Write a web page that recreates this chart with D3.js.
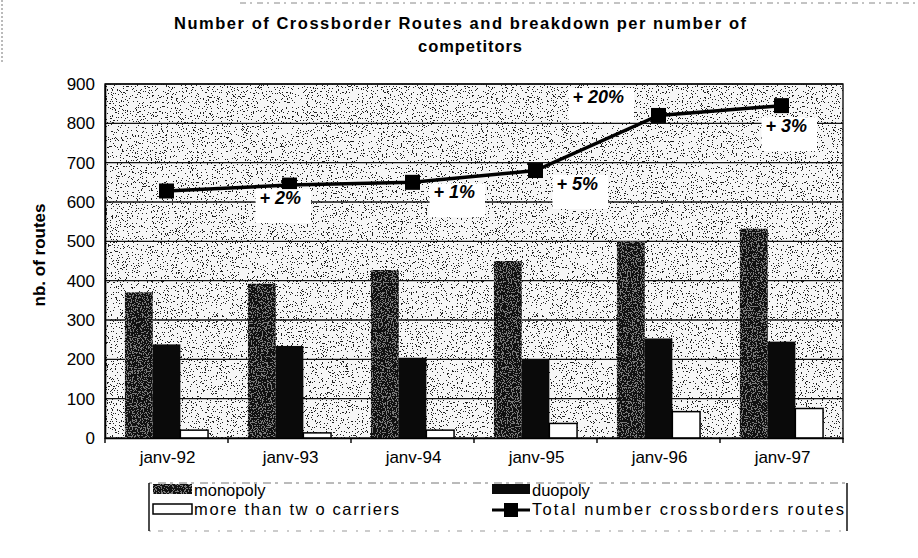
<!DOCTYPE html>
<html><head><meta charset="utf-8">
<script src="https://cdn.jsdelivr.net/npm/d3@7"></script>
<style>
body{margin:0;background:#fff;}
svg{display:block;font-family:"Liberation Sans",Arial,sans-serif;}
</style>
</head><body>
<svg id="chart" width="918" height="558"></svg>
<script>
// ---- data ----
const categories = ["janv-92", "janv-93", "janv-94", "janv-95", "janv-96", "janv-97"];
const monopoly = [370, 392, 427, 450, 500, 532];
const duopoly = [238, 234, 204, 200, 253, 245];
const moreThanTwo = [20, 13, 20, 37, 67, 75];
const totalRoutes = [628, 643, 650, 680, 820, 845];
const growthLabels = ["", "+ 2%", "+ 1%", "+ 5%", "+ 20%", "+ 3%"];
const yTicks = [0, 100, 200, 300, 400, 500, 600, 700, 800, 900];
const seriesNames = ["monopoly", "duopoly", "more than tw o carriers"];
const lineName = "Total number crossborders routes";
const titleLines = ["Number of Crossborder Routes and breakdown per number of", "competitors"];
const yTitle = "nb. of routes";

// ---- layout ----
const svg = d3.select("#chart");
const plot = {left: 105, right: 843, top: 84, bottom: 438};
const x = d3.scaleBand().domain(categories).range([plot.left, plot.right]).paddingInner(0).paddingOuter(0);
const xSub = d3.scaleBand().domain([0, 1, 2]).range([0, x.bandwidth()]).paddingInner(0).paddingOuter(0.72);
const y = d3.scaleLinear().domain([0, 900]).range([plot.bottom, plot.top]);

// ---- stipple filters ----
const defs = svg.append("defs");
function stipple(id, dotColor, ones, seed, freq) {
  const table = d3.range(20).map(i => (i >= 20 - ones ? 1 : 0)).join(" ");
  const f = defs.append("filter").attr("id", id)
    .attr("x", 0).attr("y", 0).attr("width", 1).attr("height", 1)
    .attr("filterUnits", "objectBoundingBox").attr("color-interpolation-filters", "sRGB");
  f.append("feTurbulence").attr("type", "fractalNoise").attr("baseFrequency", freq)
    .attr("numOctaves", 2).attr("seed", seed).attr("result", "n");
  f.append("feColorMatrix").attr("in", "n").attr("type", "matrix")
    .attr("values", "0 0 0 0 0  0 0 0 0 0  0 0 0 0 0  1 0 0 0 0").attr("result", "a");
  f.append("feComponentTransfer").attr("in", "a").attr("result", "t")
    .append("feFuncA").attr("type", "discrete").attr("tableValues", table);
  f.append("feFlood").attr("flood-color", dotColor).attr("result", "c");
  f.append("feComposite").attr("in", "c").attr("in2", "t").attr("operator", "in").attr("result", "dots");
  f.append("feComposite").attr("in", "dots").attr("in2", "SourceGraphic").attr("operator", "in").attr("result", "clipped");
  const m = f.append("feMerge");
  m.append("feMergeNode").attr("in", "SourceGraphic");
  m.append("feMergeNode").attr("in", "clipped");
}
stipple("bgStip", "#222", 7, 7, 0.8);
stipple("monoStip", "#111", 11, 3, 0.8);
stipple("legStip", "#111", 11, 5, 0.9);
stipple("duoStip", "#ffffff", 2, 11, 0.6);

// ---- scan frame artefacts (faint dashed borders) ----
svg.append("line").attr("x1", 240).attr("x2", 918).attr("y1", 3).attr("y2", 3)
  .attr("stroke", "#888").attr("stroke-width", 1).attr("stroke-dasharray", "6 4 2 5");
svg.append("line").attr("x1", 2).attr("x2", 2).attr("y1", 0).attr("y2", 64)
  .attr("stroke", "#777").attr("stroke-width", 1).attr("stroke-dasharray", "2 2");

// ---- title ----
svg.append("text").attr("x", 174).attr("y", 29)
  .attr("font-size", 16.5).attr("font-weight", "bold")
  .attr("textLength", 572).attr("lengthAdjust", "spacing").text(titleLines[0]);
svg.append("text").attr("x", 470).attr("y", 52).attr("text-anchor", "middle")
  .attr("font-size", 16.5).attr("font-weight", "bold")
  .attr("textLength", 104).attr("lengthAdjust", "spacing").text(titleLines[1]);

// ---- plot background ----
svg.append("rect").attr("x", plot.left).attr("y", plot.top)
  .attr("width", plot.right - plot.left).attr("height", plot.bottom - plot.top)
  .attr("fill", "#f6f6f6").attr("filter", "url(#bgStip)");

// gridlines
svg.append("g").selectAll("line").data(yTicks.filter(d => d > 0)).join("line")
  .attr("x1", plot.left).attr("x2", plot.right)
  .attr("y1", d => y(d)).attr("y2", d => y(d))
  .attr("stroke", "#111").attr("stroke-width", 1.4);

// frame
svg.append("rect").attr("x", plot.left).attr("y", plot.top)
  .attr("width", plot.right - plot.left).attr("height", plot.bottom - plot.top)
  .attr("fill", "none").attr("stroke", "#111").attr("stroke-width", 1.4);

// ---- bars ----
const seriesData = [monopoly, duopoly, moreThanTwo];
const barStyles = [
  {fill: "#7a7a7a", filter: "url(#monoStip)", stroke: "none"},
  {fill: "#0a0a0a", filter: "url(#duoStip)", stroke: "none"},
  {fill: "#ffffff", filter: null, stroke: "#000"}
];
seriesData.forEach((vals, si) => {
  svg.append("g").selectAll("rect").data(vals).join("rect")
    .attr("x", (d, i) => x(categories[i]) + xSub(si))
    .attr("y", d => y(d))
    .attr("width", xSub.bandwidth())
    .attr("height", d => y(0) - y(d))
    .attr("fill", barStyles[si].fill)
    .attr("filter", barStyles[si].filter)
    .attr("stroke", barStyles[si].stroke)
    .attr("stroke-width", 1.5);
});

// ---- axes ----
const xAxis = d3.axisBottom(x).tickSize(0).tickPadding(0);
const gx = svg.append("g").attr("transform", `translate(0,${plot.bottom})`).call(xAxis);
gx.select(".domain").attr("stroke", "#000").attr("stroke-width", 1.6);
gx.selectAll(".tick text").attr("font-size", 17).attr("fill", "#000")
  .attr("font-family", "Liberation Sans, Arial, sans-serif")
  .attr("dy", 0).attr("y", 25).attr("dx", 1);
// separator ticks between categories
svg.append("g").selectAll("line").data(categories.concat(["end"])).join("line")
  .attr("x1", (d, i) => plot.left + i * x.step()).attr("x2", (d, i) => plot.left + i * x.step())
  .attr("y1", plot.bottom).attr("y2", plot.bottom + 5)
  .attr("stroke", "#000").attr("stroke-width", 1.4);

const yAxis = d3.axisLeft(y).tickValues(yTicks).tickSize(0).tickPadding(10);
const gy = svg.append("g").attr("transform", `translate(${plot.left},0)`).call(yAxis);
gy.select(".domain").attr("stroke", "#000").attr("stroke-width", 1.6);
gy.selectAll(".tick text").attr("font-size", 17).attr("fill", "#000")
  .attr("font-family", "Liberation Sans, Arial, sans-serif");

svg.append("text").attr("transform", "translate(45,255) rotate(-90)")
  .attr("text-anchor", "middle").attr("font-size", 17).attr("font-weight", "bold")
  .text(yTitle);

// ---- total line ----
const cx = i => x(categories[i]) + x.bandwidth() / 2;
const line = d3.line().x((d, i) => cx(i)).y(d => y(d));
svg.append("path").datum(totalRoutes).attr("d", line)
  .attr("fill", "none").attr("stroke", "#000").attr("stroke-width", 3.5);
svg.append("g").selectAll("rect").data(totalRoutes).join("rect")
  .attr("x", (d, i) => cx(i) - 7.5).attr("y", d => y(d) - 7.5)
  .attr("width", 15).attr("height", 15).attr("fill", "#000");

// ---- growth labels ----
const labelOffset = [null, [-30, 19], [21, 16], [21, 19.5], [-86, -12.5], [-16, 26.5]];
const lg = svg.append("g");
growthLabels.forEach((lab, i) => {
  if (!lab) return;
  const g = lg.append("g");
  const box = g.append("rect").attr("fill", "#fff");
  const t = g.append("text")
    .attr("x", cx(i) + labelOffset[i][0])
    .attr("y", y(totalRoutes[i]) + labelOffset[i][1])
    .attr("font-size", 18).attr("font-weight", "bold").attr("font-style", "italic")
    .text(lab);
  const bb = t.node().getBBox();
  box.attr("x", bb.x - 4).attr("y", bb.y + 1)
    .attr("width", bb.width + 14).attr("height", bb.height + 14);
});

// ---- legend ----
const leg = {left: 149, right: 847, top: 483, bottom: 531};
svg.append("line").attr("x1", leg.left).attr("x2", leg.right).attr("y1", leg.top).attr("y2", leg.top)
  .attr("stroke", "#777").attr("stroke-dasharray", "3 6 8 4").attr("stroke-width", 1);
svg.append("line").attr("x1", leg.left).attr("x2", leg.right).attr("y1", leg.bottom).attr("y2", leg.bottom)
  .attr("stroke", "#999").attr("stroke-dasharray", "2 7 5 9").attr("stroke-width", 1);
[leg.left, leg.right].forEach(xx => {
  svg.append("line").attr("x1", xx).attr("x2", xx).attr("y1", leg.top).attr("y2", leg.bottom)
    .attr("stroke", "#000").attr("stroke-width", 1.4);
});

const rowY = [496, 515];
const colX = [153, 492];
const swW = [39, 38];
const fs = 16.5;
// monopoly
svg.append("rect").attr("x", colX[0]).attr("y", rowY[0] - 12).attr("width", swW[0]).attr("height", 10)
  .attr("fill", "#7a7a7a").attr("filter", "url(#legStip)");
svg.append("text").attr("x", colX[0] + swW[0] + 2).attr("y", rowY[0]).attr("font-size", fs).text(seriesNames[0]);
// duopoly
svg.append("rect").attr("x", colX[1]).attr("y", rowY[0] - 12).attr("width", swW[1]).attr("height", 10)
  .attr("fill", "#0a0a0a");
svg.append("text").attr("x", colX[1] + swW[1] + 2).attr("y", rowY[0]).attr("font-size", fs).text(seriesNames[1]);
// more than two
svg.append("rect").attr("x", colX[0]).attr("y", rowY[1] - 11).attr("width", swW[0]).attr("height", 10)
  .attr("fill", "#fff").attr("stroke", "#000").attr("stroke-width", 1.5);
svg.append("text").attr("x", colX[0] + swW[0] + 2).attr("y", rowY[1]).attr("font-size", fs)
  .attr("textLength", 205).attr("lengthAdjust", "spacing").text(seriesNames[2]);
// total line
svg.append("line").attr("x1", colX[1]).attr("x2", colX[1] + swW[1]).attr("y1", rowY[1] - 5).attr("y2", rowY[1] - 5)
  .attr("stroke", "#000").attr("stroke-width", 3);
svg.append("rect").attr("x", colX[1] + swW[1] / 2 - 7).attr("y", rowY[1] - 12).attr("width", 14).attr("height", 14)
  .attr("fill", "#000");
svg.append("text").attr("x", colX[1] + swW[1] + 2).attr("y", rowY[1]).attr("font-size", fs)
  .attr("textLength", 312).attr("lengthAdjust", "spacing").text(lineName);
</script>
</body></html>
